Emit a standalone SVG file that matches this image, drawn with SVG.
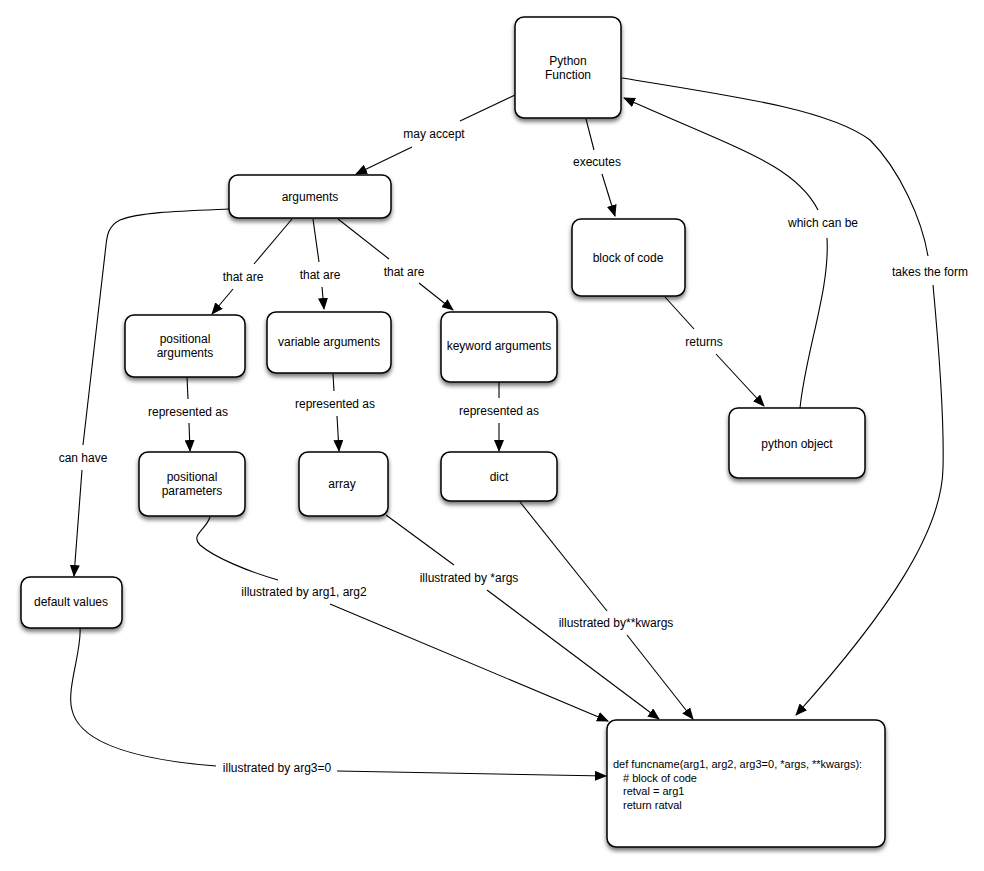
<svg xmlns="http://www.w3.org/2000/svg" width="984" height="871" viewBox="0 0 984 871">
<defs>
<filter id="sh" x="-20%" y="-20%" width="140%" height="150%">
<feDropShadow dx="0" dy="3" stdDeviation="2.2" flood-color="#000" flood-opacity="0.55"/>
</filter>
<marker id="ar" markerWidth="12" markerHeight="10" refX="11" refY="5" orient="auto" markerUnits="userSpaceOnUse">
<path d="M0,0 L12,5 L0,10 Z" fill="#000"/>
</marker>
<style>
.n rect{fill:#fff;stroke:#000;stroke-width:1.5;filter:url(#sh)}
text{font-family:"Liberation Sans",Arial,sans-serif;font-size:12px;fill:#000}
.n text{text-anchor:middle}
.l{text-anchor:middle}
.c path{fill:none;stroke:#000;stroke-width:1.1}
.a{marker-end:url(#ar)}
.code{font-size:11px}
</style>
</defs>
<rect width="984" height="871" fill="#fff"/>
<g class="c" id="connectors">
<path d="M515,95 L460,121"/><path class="a" d="M412,147 L356,174"/>
<text class="l" x="434" y="138">may accept</text>
<path d="M586,119 L594,150"/><path class="a" d="M602,174 L615,216"/>
<text class="l" x="597" y="166">executes</text>
<path d="M665,297 L694,329"/><path class="a" d="M716,354 L764,406"/>
<text class="l" x="704" y="346">returns</text>
<path d="M800,408 C806,350 830,290 827,238"/><path class="a" d="M818,210 C795,165 740,150 624,98"/>
<text class="l" x="823" y="227">which can be</text>
<path d="M622,78 C740,97 830,110 870,140 C900,170 922,220 928,256"/><path class="a" d="M933,285 C940,360 944,430 943,468 C942,530 890,610 796,715"/>
<text class="l" x="930" y="276">takes the form</text>
<path d="M292,219 L254,264"/><path class="a" d="M233,289 L212,314"/>
<text class="l" x="243" y="281">that are</text>
<path d="M313,219 L319,262"/><path class="a" d="M322,287 L324,309"/>
<text class="l" x="320" y="279">that are</text>
<path d="M338,219 L389,259"/><path class="a" d="M419,283 L453,310"/>
<text class="l" x="404" y="276">that are</text>
<path d="M187,377 L188,399"/><path class="a" d="M189,423 L190,451"/>
<text class="l" x="188" y="416">represented as</text>
<path d="M333,374 L334,391"/><path class="a" d="M337,416 L339,451"/>
<text class="l" x="335" y="408">represented as</text>
<path d="M499,382 L499,398"/><path class="a" d="M499,423 L499,451"/>
<text class="l" x="499" y="415">represented as</text>
<path d="M229,209 C180,211 140,212 120,220 C108,226 107,236 106,245 L83,445"/><path class="a" d="M82,470 L74,576"/>
<text class="l" x="83" y="462">can have</text>
<path d="M210,517 C206,530 190,535 200,545 C215,558 250,572 278,580"/><path class="a" d="M330,604 L608,721"/>
<text class="l" x="304" y="596">illustrated by arg1, arg2</text>
<path d="M386,515 L454,565"/><path class="a" d="M487,590 L659,719"/>
<text class="l" x="469" y="582">illustrated by *args</text>
<path d="M520,502 L607,611"/><path class="a" d="M627,635 L693,719"/>
<text class="l" x="616" y="627">illustrated by**kwargs</text>
<path d="M80,628 C82,650 66,690 72,710 C80,745 140,760 216,766"/><path class="a" d="M337,771 L606,776"/>
<text class="l" x="277" y="772">illustrated by arg3=0</text>
</g>
<g class="n" id="python-function"><rect x="515" y="17" width="106" height="101" rx="9"/><text x="568" y="65">Python</text><text x="568" y="79">Function</text></g>
<g class="n" id="arguments"><rect x="229" y="175" width="162" height="43" rx="9"/><text x="310" y="201">arguments</text></g>
<g class="n" id="block-of-code"><rect x="572" y="219" width="113" height="77" rx="9"/><text x="628" y="262">block of code</text></g>
<g class="n" id="positional-arguments"><rect x="125" y="315" width="120" height="62" rx="9"/><text x="185" y="343">positional</text><text x="185" y="357">arguments</text></g>
<g class="n" id="variable-arguments"><rect x="267" y="312" width="124" height="61" rx="9"/><text x="329" y="346">variable arguments</text></g>
<g class="n" id="keyword-arguments"><rect x="441" y="312" width="116" height="70" rx="9"/><text x="499" y="350">keyword arguments</text></g>
<g class="n" id="python-object"><rect x="729" y="408" width="136" height="70" rx="9"/><text x="797" y="448">python object</text></g>
<g class="n" id="positional-parameters"><rect x="139" y="452" width="106" height="64" rx="9"/><text x="192" y="481">positional</text><text x="192" y="495">parameters</text></g>
<g class="n" id="array"><rect x="299" y="452" width="89" height="64" rx="9"/><text x="342" y="488">array</text></g>
<g class="n" id="dict"><rect x="441" y="452" width="116" height="49" rx="9"/><text x="499" y="481">dict</text></g>
<g class="n" id="default-values"><rect x="21" y="577" width="101" height="51" rx="9"/><text x="71" y="606">default values</text></g>
<g class="n" id="code"><rect x="607" y="720" width="278" height="127" rx="9"/>
<text class="code" x="613" y="768" style="text-anchor:start">def funcname(arg1, arg2, arg3=0, *args, **kwargs):</text>
<text class="code" x="623" y="782" style="text-anchor:start"># block of code</text>
<text class="code" x="623" y="795" style="text-anchor:start">retval = arg1</text>
<text class="code" x="623" y="809" style="text-anchor:start">return ratval</text>
</g>
</svg>
